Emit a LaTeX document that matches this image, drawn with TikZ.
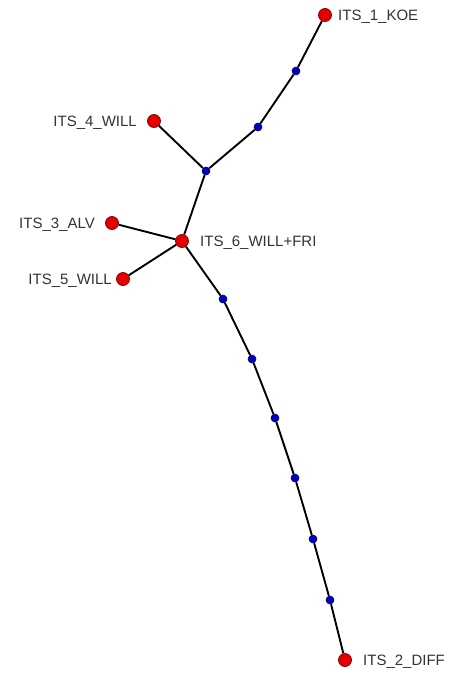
\documentclass[tikz,border=0pt]{standalone}
\usepackage{fontspec}
\setmainfont{Liberation Sans}
\begin{document}
\begin{tikzpicture}[x=1pt,y=-1pt,
  leaf/.style={circle,draw=red!55!black,line width=0.8pt,fill=red!90!black,minimum size=13pt,inner sep=0pt},
  inner/.style={circle,draw=blue!40!black,line width=0.6pt,fill=blue!75!black,minimum size=8pt,inner sep=0pt},
  branch/.style={line width=1.9pt,black},
  lbl/.style={inner sep=0pt,font=\fontsize{15pt}{15pt}\selectfont,text=black!80}]
\useasboundingbox (0,0) rectangle (454,673);
\fill[white] (0,0) rectangle (454,673);

% tree vertices
\node[leaf]  (koe)  at (325,15)  {};
\node[inner] (b1)   at (296,71)  {};
\node[inner] (b2)   at (258,127) {};
\node[inner] (b3)   at (206,171) {};
\node[leaf]  (w4)   at (154,121) {};
\node[leaf]  (alv)  at (112,223) {};
\node[leaf]  (fri)  at (182,241) {};
\node[leaf]  (w5)   at (123,279) {};
\node[inner] (c1)   at (223,299) {};
\node[inner] (c2)   at (252,359) {};
\node[inner] (c3)   at (275,418) {};
\node[inner] (c4)   at (295,478) {};
\node[inner] (c5)   at (313,539) {};
\node[inner] (c6)   at (330,600) {};
\node[leaf]  (diff) at (345,660) {};

% branches
\draw[branch] (koe) -- (b1) -- (b2) -- (b3);
\draw[branch] (w4) -- (b3);
\draw[branch] (b3) -- (fri);
\draw[branch] (alv) -- (fri);
\draw[branch] (w5) -- (fri);
\draw[branch] (fri) -- (c1) -- (c2) -- (c3) -- (c4) -- (c5) -- (c6) -- (diff);

% labels
\node[lbl,anchor=base west] (lkoe)  at (338,20.4)  {ITS\_1\_KOE};
\node[lbl,anchor=base east] (lw4)   at (137,126.4) {ITS\_4\_WILL};
\node[lbl,anchor=base east] (lalv)  at (95,228.4)  {ITS\_3\_ALV};
\node[lbl,anchor=base west] (lfri)  at (200,246.4) {ITS\_6\_WILL+FRI};
\node[lbl,anchor=base east] (lw5)   at (112,284.4) {ITS\_5\_WILL};
\node[lbl,anchor=base west] (ldiff) at (363,665.4) {ITS\_2\_DIFF};
\end{tikzpicture}
\end{document}
